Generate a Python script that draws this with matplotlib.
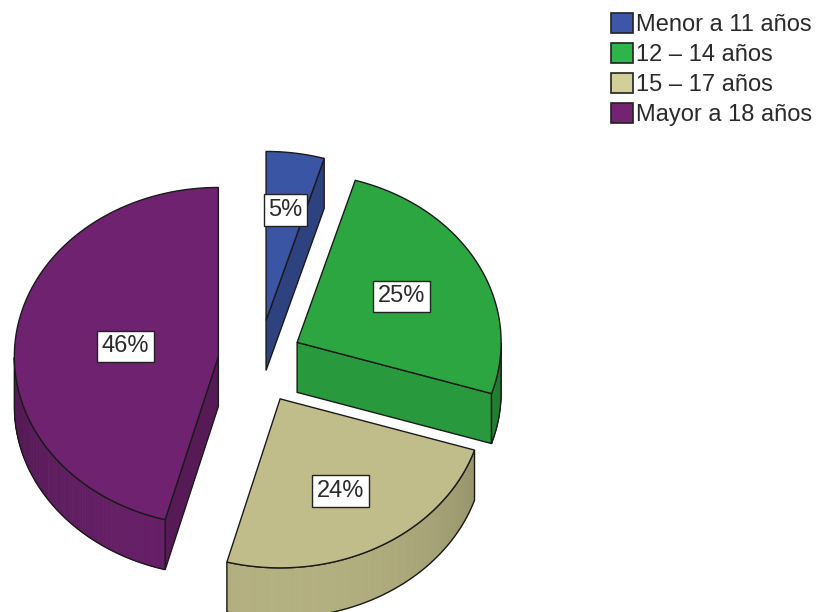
import numpy as np
import matplotlib.pyplot as plt
from matplotlib.patches import Polygon, Patch
from matplotlib.colors import to_rgb

plt.rcParams['font.family'] = ['Liberation Sans', 'DejaVu Sans']

# Data
categories = ['Menor a 11 años', '12 – 14 años', '15 – 17 años', 'Mayor a 18 años']
percentages = [4.6, 25.3, 24.3, 45.8]
top_colors = ['#3a55a3', '#2ca641', '#c1bd8a', '#6f2270']
legend_colors = ['#3c57a8', '#2db54a', '#d3cf98', '#73236f']

# Layout of the 3D pie (pixel coordinates)
cx, cy = 260, 362
rx, ry = 204, 169
depth = 50
explode = 42
label_frac = [0.66, 0.58, 0.62, 0.46]
edge = '#1a1a1a'


def shade(color, front):
    # faces turned toward the viewer are lighter
    f = 0.72 + 0.21 * front
    r, g, b = to_rgb(color)
    return (r * f, g * f, b * f)


fig = plt.figure(figsize=(8.17, 6.12), dpi=100)
ax = fig.add_axes([0, 0, 1, 1])
ax.set_xlim(0, 817)
ax.set_ylim(612, 0)
ax.axis('off')

# wedge angles, clockwise from 12 o'clock
wedges = []
start = 90.0
for i, p in enumerate(percentages):
    b = start
    a = start - p * 3.6
    mid = np.radians((a + b) / 2)
    vx = cx + explode * np.cos(mid)
    vy = cy - explode * np.sin(mid)
    wedges.append((i, a, b, vx, vy, mid))
    start = a


def rim(vx, vy, t):
    return vx + rx * np.cos(t), vy - ry * np.sin(t)


# back to front
for i, a, b, vx, vy, mid in sorted(wedges, key=lambda w: w[4]):
    col = top_colors[i]
    ta, tb = np.radians(a), np.radians(b)

    # radial side faces
    for t, sign in ((ta, 1), (tb, -1)):
        if sign * np.cos(t) > 1e-6:
            front = sign * np.cos(t)
            x1, y1 = rim(vx, vy, t)
            quad = [(vx, vy), (x1, y1), (x1, y1 + depth), (vx, vy + depth)]
            ax.add_patch(Polygon(quad, closed=True, facecolor=shade(col, front),
                                 edgecolor=edge, linewidth=1.0))

    # outer curved wall (front half only)
    ts = np.linspace(ta, tb, 200)
    front_mask = np.sin(ts) < 0
    if front_mask.any():
        tf = ts[front_mask]
        for t0, t1 in zip(tf[:-1], tf[1:]):
            c = shade(col, -np.sin(t0))
            x0, y0 = rim(vx, vy, t0)
            x1, y1 = rim(vx, vy, t1)
            ax.add_patch(Polygon([(x0, y0), (x1, y1), (x1, y1 + depth), (x0, y0 + depth)],
                                 closed=True, facecolor=c, edgecolor=c, linewidth=0.6))
        xs, ys = rim(vx, vy, tf)
        outline = list(zip(xs, ys)) + list(zip(xs[::-1], ys[::-1] + depth))
        ax.add_patch(Polygon(outline, closed=True, facecolor='none',
                             edgecolor=edge, linewidth=1.0))

    # top face
    xs, ys = rim(vx, vy, ts)
    top = [(vx, vy)] + list(zip(xs, ys))
    ax.add_patch(Polygon(top, closed=True, facecolor=col, edgecolor=edge, linewidth=1.0))

    # percentage label
    lx = vx + label_frac[i] * rx * np.cos(mid)
    ly = vy - label_frac[i] * ry * np.sin(mid)
    ax.text(lx, ly, f'{percentages[i]:.0f}%', fontsize=17, ha='center', va='center',
            color='#2a2a2a', zorder=5,
            bbox=dict(boxstyle='square,pad=0.2', facecolor='white',
                      edgecolor='#222222', linewidth=1.0))

handles = [Patch(facecolor=c, edgecolor='#222222', linewidth=1.2) for c in legend_colors]
fig.legend(handles, categories, loc='upper left', bbox_to_anchor=(611 / 817, 1 - 13 / 612),
           frameon=False, fontsize=17, handlelength=0.95, handleheight=0.95,
           handletextpad=0.1, labelspacing=0.28, borderpad=0, borderaxespad=0,
           labelcolor='#2a2a2a')

plt.savefig('out.png', dpi=100)
